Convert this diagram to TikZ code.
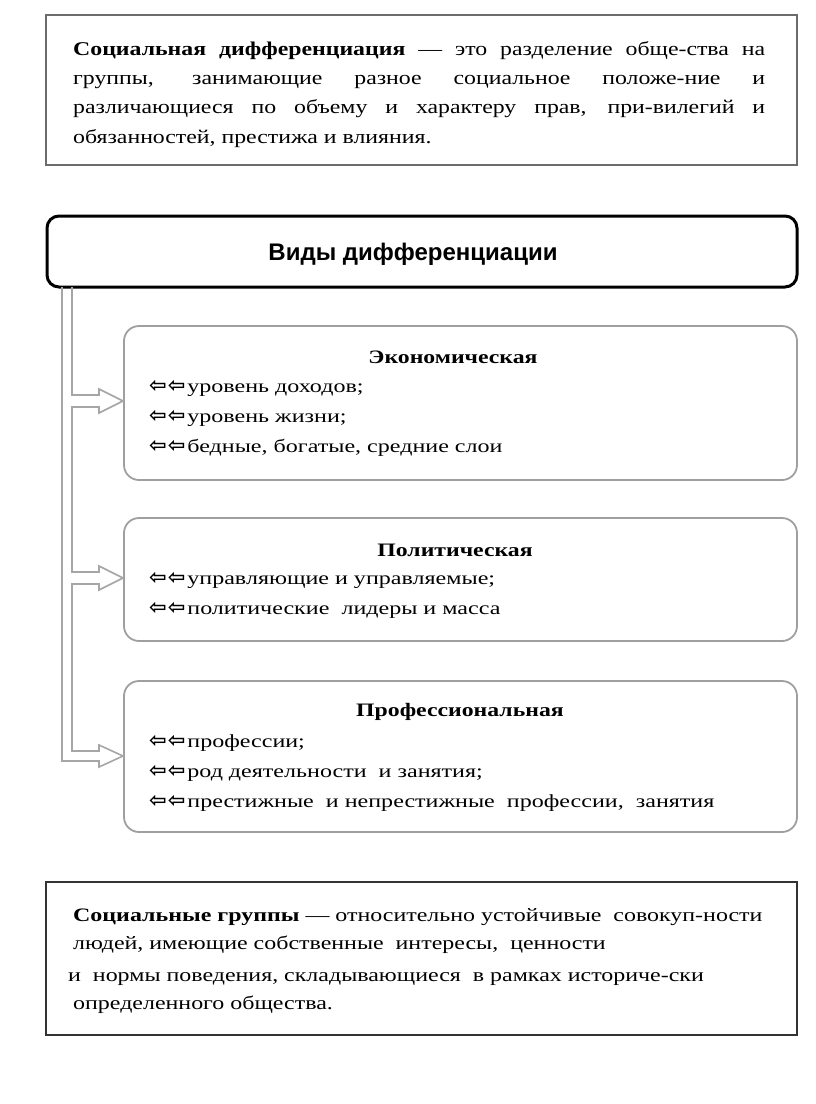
\documentclass[tikz,border=0pt]{standalone}
\usepackage{fontspec}
\setmainfont{Liberation Serif}
\newfontfamily\topfont[FakeStretch=1.22]{Liberation Serif}
\newfontfamily\itemfont[FakeStretch=1.3]{Liberation Serif}
\newfontfamily\titlefont[FakeStretch=1.25]{Liberation Serif}
\newfontfamily\grpfont[FakeStretch=1.26]{Liberation Serif}
\newfontfamily\headfont{Liberation Sans}
\newfontfamily\symfont{DejaVu Sans}
\begin{document}
\begin{tikzpicture}[x=1pt,y=-1pt,
  plainbox/.style={draw=#1, line width=2pt},
  kindbox/.style={draw=gray!75, line width=1.8pt, rounded corners=15pt},
  conn/.style={draw=gray!70, line width=1.6pt},
  body/.style={inner sep=0pt, anchor=north west, align=left},
  items/.style={body, font=\itemfont\fontsize{18.5}{30}\selectfont},
  title/.style={font=\titlefont\fontsize{19}{24}\selectfont\bfseries, inner sep=0pt}
]
\useasboundingbox (0,0) rectangle (816,1104);
% top definition box
\draw[plainbox=gray!85!black, line width=2.4pt] (46,15) rectangle (797,165);
\node[body, font=\topfont\fontsize{19.5}{29.3}\selectfont] (def) at (73,41)
 {\makebox[692pt][s]{\textbf{Социальная дифференциация} — это разделение обще-ства на}\\
  \makebox[692pt][s]{группы, занимающие разное социальное положе-ние и}\\
  \makebox[692pt][s]{различающиеся по объему и характеру прав, при-вилегий и}\\
  обязанностей, престижа и влияния.};
% header
\draw[draw=black, line width=3pt, rounded corners=12pt] (47,216) rectangle (797,287);
\node[font=\headfont\fontsize{24}{28}\selectfont\bfseries, inner sep=0pt] (head) at (413,254) {Виды дифференциации};
% kind boxes
\draw[kindbox] (124,326) rectangle (797,480);
\draw[kindbox] (124,518) rectangle (797,641);
\draw[kindbox] (124,681) rectangle (797,832);
\newcommand{\arr}{{\symfont\bfseries\fontsize{21}{21}\selectfont ⇦\hspace{1pt}⇦}\hspace{2pt}}
\newcommand{\tl}{\rule{0pt}{15pt}}
\node[title] (t1) at (453,357) {Экономическая};
\node[items] (e) at (149,377.5) {\tl\arr уровень доходов;\\ \arr уровень жизни;\\ \arr бедные, богатые, средние слои};
\node[title] (t2) at (455,550) {Политическая};
\node[items] (p) at (149,569.5) {\tl\arr управляющие и управляемые;\\ \arr политические\ \ лидеры и масса};
\node[title] (t3) at (460,712) {Профессиональная};
\node[items] (r) at (149,732) {\tl\arr профессии;\\ \arr род деятельности\ \ и занятия;\\ \arr престижные\ \ и непрестижные\ \ профессии,\ \ занятия};
% connector (hollow double arrows)
\coordinate (o0) at (62,287);
\coordinate (i0) at (72,287);
\draw[conn] (o0) -- (62,761) -- (99,761) -- (99,767) -- (123,756) -- (99,745) -- (99,751) -- (72,751) -- (72,584)
  -- (99,584) -- (99,590) -- (123,578) -- (99,566) -- (99,572) -- (72,572) -- (72,407)
  -- (99,407) -- (99,413) -- (123,401) -- (99,389) -- (99,395) -- (72,395) -- (i0);
% bottom box
\draw[plainbox=black!80, line width=2pt] (46,882) rectangle (797,1035);
\node[body, font=\grpfont\fontsize{19}{28}\selectfont] (grp) at (73,908)
 {\textbf{Социальные группы} — относительно устойчивые\ \ совокуп-ности\\ людей, имеющие собственные\ \ интересы,\ \ ценности\\[4.5pt] \hspace*{-5pt}и\ \ нормы поведения, складывающиеся\ \ в рамках историче-ски\\ определенного общества.};
\end{tikzpicture}
\end{document}
